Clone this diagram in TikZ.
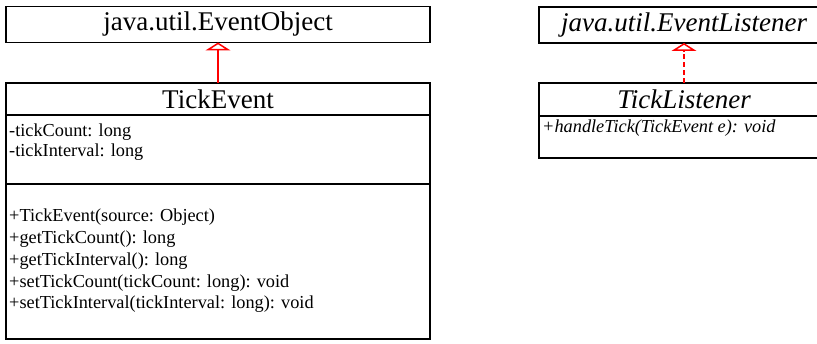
\documentclass[tikz,border=0pt]{standalone}
\usepackage{fontspec}
\setmainfont{Liberation Serif}
\usetikzlibrary{arrows.meta}
\begin{document}
\begin{tikzpicture}[x=1pt,y=-1pt,
  box/.style={draw=black, line width=1.4pt, rectangle, inner sep=0pt, outer sep=0pt},
  titlefont/.style={font=\fontsize{27}{32}\selectfont},
  member/.style={anchor=base west, inner sep=0pt, font=\fontsize{18.3}{21}\selectfont},
  inh/.style={draw=red, line width=1.5pt, -{Triangle[open, length=8pt, width=25pt, fill=white]}},
  realize/.style={inh, dash pattern=on 5pt off 3pt}]
\useasboundingbox (0,0) rectangle (817,344);
% java.util.EventObject
\node[box, titlefont, minimum width=424pt, minimum height=36pt] (eo) at (218,24.5) {java.util.EventObject};
% TickEvent
\node[box, titlefont, minimum width=424pt, minimum height=32pt] (tehead) at (218,99) {TickEvent};
\node[box, minimum width=424pt, minimum height=69pt] (teattr) at (218,149.5) {};
\node[box, minimum width=424pt, minimum height=155pt] (temeth) at (218,261.5) {};
\node[member] (a1) at (9,137) {-tickCount: long};
\node[member] (a2) at (9,157) {-tickInterval: long};
\node[member] (m1) at (9,222) {+TickEvent(source: Object)};
\node[member] (m2) at (9,244) {+getTickCount(): long};
\node[member] (m3) at (9,266) {+getTickInterval(): long};
\node[member] (m4) at (9,287.5) {+setTickCount(tickCount: long): void};
\node[member] (m5) at (9,309) {+setTickInterval(tickInterval: long): void};
% java.util.EventListener
\node[box, titlefont, minimum width=290pt, minimum height=36pt] (el) at (684,25) {\itshape java.util.EventListener};
% TickListener
\node[box, titlefont, minimum width=290pt, minimum height=33pt] (tlhead) at (684,99.5) {\itshape TickListener};
\node[box, minimum width=290pt, minimum height=42pt] (tlmeth) at (684,137) {};
\node[member] (h1) at (542,133) {\itshape +handleTick(TickEvent e): void};
% connectors
\draw[inh] (tehead.north) -- (eo.south);
\draw[realize] (tlhead.north) -- (el.south);
\end{tikzpicture}
\end{document}
